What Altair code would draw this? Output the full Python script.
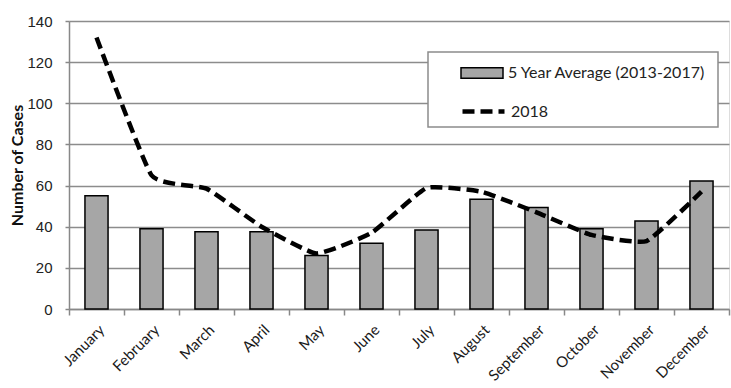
import altair as alt
import pandas as pd

months = ["January", "February", "March", "April", "May", "June", "July",
          "August", "September", "October", "November", "December"]
avg_5yr = [55, 39, 37.6, 37.6, 26, 32, 38.4, 53.3, 49.3, 39, 42.8, 62.2]
cases_2018 = [132, 65, 58.5, 40, 27, 37, 58.8, 57, 47, 36, 33, 57]
avg_label = "5 Year Average (2013-2017)"
line_label = "2018"

bars_df = pd.DataFrame({"month": months, "value": avg_5yr, "series": avg_label})
line_df = pd.DataFrame({"month": months, "value": cases_2018, "series": line_label})

x = alt.X("month:N", sort=months, title=None,
          scale=alt.Scale(paddingInner=0, paddingOuter=0),
          axis=alt.Axis(labelAngle=-45, labelAlign="right", labelBaseline="top",
                        labelFont="Lato", labelFontSize=15, labelColor="#1a1a1a",
                        labelPadding=7, tickBand="extent", tickSize=6,
                        tickColor="#888", domainColor="#888", domainWidth=1.5,
                        tickWidth=1.5, grid=False))
y = alt.Y("value:Q", title="Number of Cases",
          scale=alt.Scale(domain=[0, 140], nice=False),
          axis=alt.Axis(values=list(range(0, 141, 20)), labelFont="Liberation Sans",
                        labelFontSize=15, labelColor="#222", labelPadding=13, tickSize=4,
                        tickColor="#888", domainColor="#888", domainWidth=1.5, tickWidth=1.5,
                        gridColor="#8c8c8c", gridWidth=1.5,
                        titleFont="Lato", titleFontWeight="bold", titleFontSize=16,
                        titleColor="#111", titleAngle=-90, titleX=-52, titleY=144,
                        titleAlign="center", titleBaseline="middle"))

bars = alt.Chart(bars_df).mark_bar(
    width={"band": 0.42}, stroke="black", strokeWidth=1.5
).encode(
    x=x, y=y,
    fill=alt.Fill("series:N", scale=alt.Scale(domain=[avg_label], range=["#a6a6a6"]),
                  legend=alt.Legend(orient="none", legendX=391, legendY=30, title=None,
                                    symbolType="M-1,-0.25H1V0.25H-1Z", symbolSize=1764,
                                    symbolStrokeColor="black", symbolStrokeWidth=1.5,
                                    symbolFillColor="#a6a6a6", symbolOpacity=1,
                                    labelFont="Lato", labelFontSize=16, labelColor="#222",
                                    labelOffset=4, labelLimit=400, padding=0))
)

box = alt.Chart(pd.DataFrame({"k": [0]})).mark_rect(
    fill="white", stroke="#8c8c8c", strokeWidth=1.5
).encode(x=alt.value(359), x2=alt.value(649), y=alt.value(31), y2=alt.value(106))

line = alt.Chart(line_df).mark_line(
    color="black", strokeWidth=4.5, interpolate="cardinal", tension=0.6
).encode(
    x=x, y=y,
    strokeDash=alt.StrokeDash("series:N", scale=alt.Scale(domain=[line_label], range=[[12, 6]]),
                              legend=alt.Legend(orient="none", legendX=391, legendY=67, title=None,
                                                symbolType="stroke", symbolSize=1764,
                                                symbolStrokeColor="black", symbolStrokeWidth=4.5,
                                                labelFont="Lato", labelFontSize=16, labelColor="#222",
                                                labelOffset=4, labelLimit=400, padding=0))
)

chart = alt.layer(bars, box, line).resolve_legend(fill="independent", strokeDash="independent").properties(
    width=660, height=288,
    autosize=alt.AutoSizeParams(type="none"),
    padding={"left": 69, "top": 21, "right": 2, "bottom": 79}
).configure_view(stroke=None).configure(background="white")

chart.save("out.html", embed_options={"renderer": "svg", "actions": False})
